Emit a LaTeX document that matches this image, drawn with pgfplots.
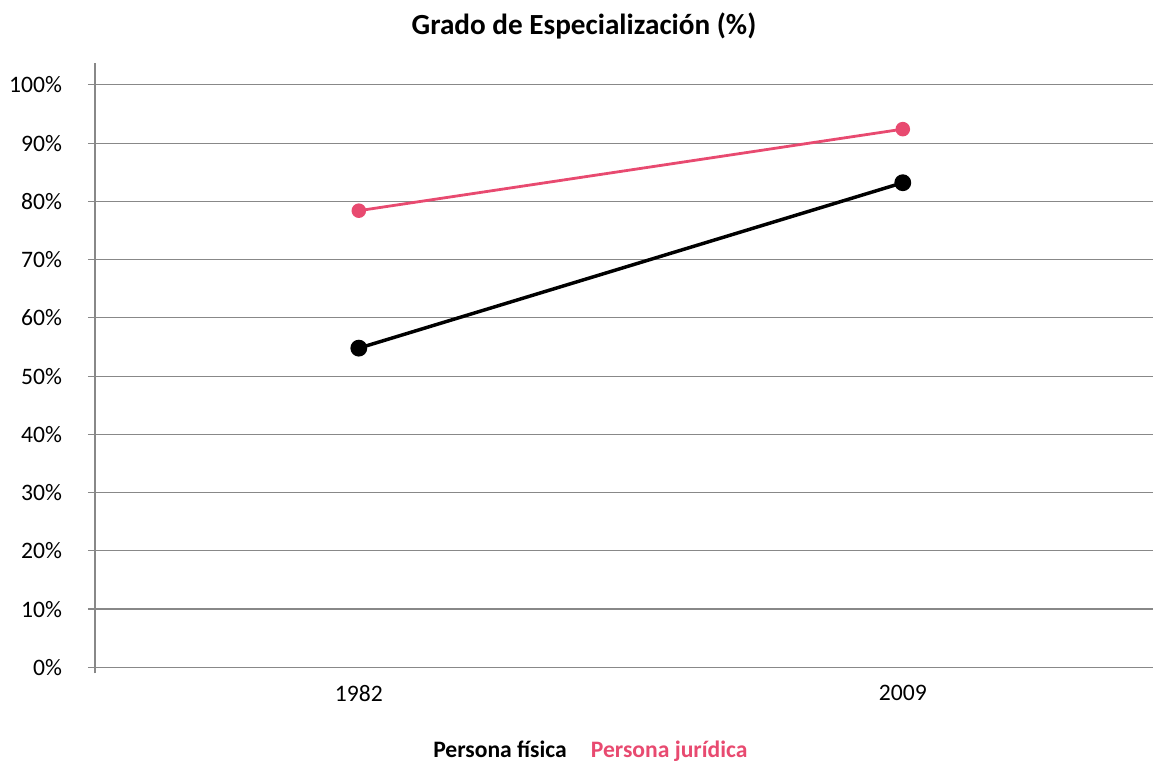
\documentclass[border=0pt]{standalone}
\usepackage{pgfplots}
\pgfplotsset{compat=1.18}
\usepackage{fontspec}
\setmainfont{Carlito}
\definecolor{pinkline}{HTML}{E84A70}
\definecolor{gridgray}{HTML}{888888}
\begin{document}
\begin{tikzpicture}[x=1pt,y=1pt]
\useasboundingbox (0,0) rectangle (864.75,574.5);
\begin{axis}[
  at={(71.25pt,69.5pt)}, anchor=south west,
  scale only axis,
  width=793.5pt, height=457.5pt,
  xmin=-0.485, xmax=1.46,
  ymin=-1.03, ymax=103.7,
  axis lines*=left,
  x axis line style={draw=none},
  y axis line style={draw=gridgray, line width=0.9pt},
  xtick={0,1}, xticklabels={1982,2009},
  x tick style={draw=none},
  ytick={0,10,...,100},
  yticklabels={0\%,10\%,20\%,30\%,40\%,50\%,60\%,70\%,80\%,90\%,100\%},
  y tick style={draw=gridgray, line width=0.9pt},
  tick align=outside,
  major tick length=5.25pt,
  ymajorgrids,
  grid style={draw=gridgray, line width=0.9pt},
  tick label style={font=\fontsize{17.7}{20}\selectfont},
  yticklabel style={xshift=-16pt},
  xticklabel style={yshift=0pt},
  clip=false,
]
\addplot[black, line width=2.6pt, mark=*, mark size=5pt, mark options={solid}] coordinates {(0,54.8) (1,83.2)};
\addplot[pinkline, line width=2.1pt, mark=*, mark size=4.4pt, mark options={solid}] coordinates {(0,78.4) (1,92.4)};
\end{axis}
\node[anchor=base, font=\fontsize{21.9}{26}\selectfont\bfseries] at (438,548.25) {Grado de Especialización (\%)};
\node[anchor=base west, inner sep=0pt, font=\fontsize{17.7}{20}\selectfont\bfseries] at (324.75,6) {\textcolor{black}{Persona física}\hspace{18pt}\textcolor{pinkline}{Persona jurídica}};
\end{tikzpicture}
\end{document}
